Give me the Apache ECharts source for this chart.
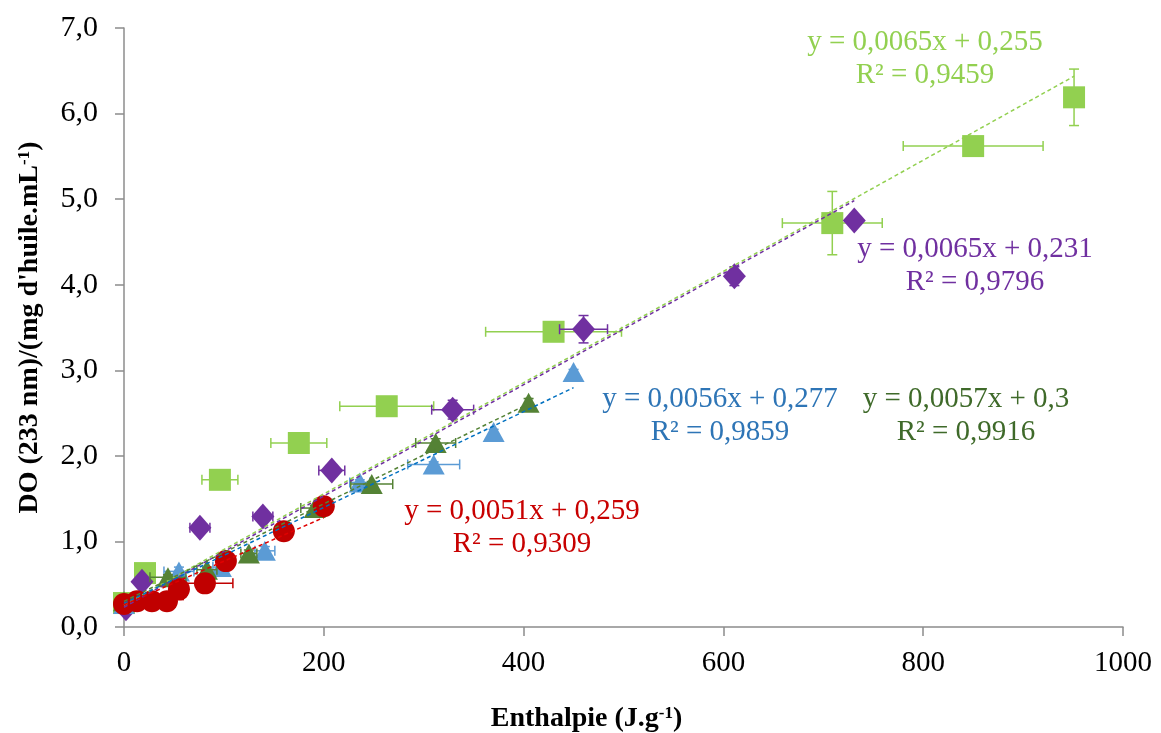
<!DOCTYPE html>
<html>
<head>
<meta charset="utf-8">
<script src="https://cdn.jsdelivr.net/npm/echarts@6/dist/echarts.min.js"></script>
<style>
html,body{margin:0;padding:0;background:#fff;}
#c{width:1161px;height:733px;}
</style>
</head>
<body>
<div id="c"></div>
<script>
// ---- data ----
const xTicks = [0, 200, 400, 600, 800, 1000];
const yTicks = [0, 1, 2, 3, 4, 5, 6, 7];

const limeX    = [0, 21, 96, 175, 263, 430, 709, 850, 951];
const limeY    = [0.28, 0.63, 1.72, 2.15, 2.58, 3.45, 4.72, 5.62, 6.19];
const limeXErr = [3, 5, 18, 28, 47, 68, 50, 70, 0];
const limeYErr = [0.02, 0.03, 0.03, 0.03, 0.08, 0.03, 0.37, 0.03, 0.33];

const purpleX    = [2, 18, 76, 139, 208, 329, 460, 611, 731];
const purpleY    = [0.22, 0.53, 1.16, 1.29, 1.83, 2.54, 3.48, 4.10, 4.75];
const purpleXErr = [2, 5, 10, 10, 13, 21, 24, 0, 0];
const purpleYErr = [0.02, 0.03, 0.05, 0.03, 0.03, 0.11, 0.16, 0.11, 0.02];

const blueX    = [0, 55, 97, 141, 236, 310, 370, 450];
const blueY    = [0.27, 0.65, 0.70, 0.89, 1.69, 1.90, 2.28, 2.98];
const blueXErr = [2, 15, 8, 10, 10, 26, 0, 0];
const blueYErr = [0.02, 0.05, 0.03, 0.05, 0.03, 0.03, 0.03, 0.03];

const dgreenX    = [0, 44, 83, 125, 191, 248, 312, 405];
const dgreenY    = [0.30, 0.58, 0.67, 0.86, 1.39, 1.67, 2.15, 2.62];
const dgreenXErr = [3, 18, 10, 8, 14, 21, 20, 3];
const dgreenYErr = [0.03, 0.03, 0.03, 0.04, 0.03, 0.03, 0.05, 0.05];

const redX    = [0, 13, 28, 43, 55, 81, 102, 160, 200];
const redY    = [0.27, 0.30, 0.30, 0.30, 0.44, 0.51, 0.77, 1.12, 1.41];
const redXErr = [2, 3, 3, 3, 5, 28, 5, 5, 3];
const redYErr = [0.02, 0.02, 0.02, 0.02, 0.12, 0.02, 0.02, 0.02, 0.02];

// trendline coefficients (slope, intercept) as printed on the chart
const trendSlope     = [0.0065, 0.0065, 0.0056, 0.0057, 0.0051];
const trendIntercept = [0.255, 0.231, 0.277, 0.3, 0.259];
const eqTexts = ['y = 0,0065x + 0,255', 'y = 0,0065x + 0,231', 'y = 0,0056x + 0,277', 'y = 0,0057x + 0,3', 'y = 0,0051x + 0,259'];
const r2Texts = ['R² = 0,9459', 'R² = 0,9796', 'R² = 0,9859', 'R² = 0,9916', 'R² = 0,9309'];

// ---- styling ----
const FONT = '"Liberation Serif", "Times New Roman", serif';
const groups = [
  {x: limeX, y: limeY, xe: limeXErr, ye: limeYErr, color: '#92D050', line: '#92D050', text: '#92D050', symbol: 'rect', size: [22, 22], labelPos: [925, 42]},
  {x: purpleX, y: purpleY, xe: purpleXErr, ye: purpleYErr, color: '#7030A0', line: '#7030A0', text: '#7030A0', symbol: 'diamond', size: [23, 26], labelPos: [975, 249]},
  {x: blueX, y: blueY, xe: blueXErr, ye: blueYErr, color: '#5B9BD5', line: '#0070C0', text: '#2E75B6', symbol: 'triangle', size: [22, 20], labelPos: [720, 399]},
  {x: dgreenX, y: dgreenY, xe: dgreenXErr, ye: dgreenYErr, color: '#548235', line: '#548235', text: '#3F6A2A', symbol: 'triangle', size: [22, 20], labelPos: [966, 399]},
  {x: redX, y: redY, xe: redXErr, ye: redYErr, color: '#C00000', line: '#E00000', text: '#C80000', symbol: 'circle', size: 22, labelPos: [522, 511]}
];

function errRender(color) {
  return function (params, api) {
    const x = api.value(0), y = api.value(1), xe = api.value(2), ye = api.value(3);
    const cap = 5;
    const children = [];
    const style = {stroke: color, lineWidth: 1.5};
    if (xe > 0) {
      const a = api.coord([x - xe, y]), b = api.coord([x + xe, y]);
      children.push({type: 'line', shape: {x1: a[0], y1: a[1], x2: b[0], y2: b[1]}, style});
      children.push({type: 'line', shape: {x1: a[0], y1: a[1] - cap, x2: a[0], y2: a[1] + cap}, style});
      children.push({type: 'line', shape: {x1: b[0], y1: b[1] - cap, x2: b[0], y2: b[1] + cap}, style});
    }
    if (ye > 0) {
      const a = api.coord([x, y - ye]), b = api.coord([x, y + ye]);
      children.push({type: 'line', shape: {x1: a[0], y1: a[1], x2: b[0], y2: b[1]}, style});
      children.push({type: 'line', shape: {x1: a[0] - cap, y1: a[1], x2: a[0] + cap, y2: a[1]}, style});
      children.push({type: 'line', shape: {x1: b[0] - cap, y1: b[1], x2: b[0] + cap, y2: b[1]}, style});
    }
    return {type: 'group', children};
  };
}

const series = [];
groups.forEach((g, i) => {
  series.push({
    type: 'custom',
    renderItem: errRender(g.color),
    data: g.x.map((v, k) => [v, g.y[k], g.xe[k], g.ye[k]]),
    encode: {x: 0, y: 1},
    z: 2 + i * 2,
    silent: true
  });
  series.push({
    type: 'scatter',
    symbol: g.symbol,
    symbolSize: g.size,
    itemStyle: {color: g.color, opacity: 1},
    data: g.x.map((v, k) => [v, g.y[k]]),
    z: 3 + i * 2,
    silent: true
  });
});
groups.forEach((g, i) => {
  const xmax = Math.max.apply(null, g.x);
  series.push({
    type: 'line',
    data: [[0, trendIntercept[i]], [xmax, trendSlope[i] * xmax + trendIntercept[i]]],
    showSymbol: false,
    symbol: 'none',
    lineStyle: {color: g.line, width: 1.5, type: [4, 3]},
    z: 20,
    silent: true
  });
});

const graphics = [];
groups.forEach((g, i) => {
  graphics.push({
    type: 'text', x: g.labelPos[0], y: g.labelPos[1],
    style: {text: eqTexts[i], fill: g.text, font: '29px ' + FONT, textAlign: 'center', textVerticalAlign: 'middle'},
    z: 30
  });
  graphics.push({
    type: 'text', x: g.labelPos[0], y: g.labelPos[1] + 33,
    style: {text: r2Texts[i], fill: g.text, font: '29px ' + FONT, textAlign: 'center', textVerticalAlign: 'middle'},
    z: 30
  });
});

const axisColor = '#8c8c8c';
const chart = echarts.init(document.getElementById('c'), null, {renderer: 'canvas'});
chart.setOption({
  animation: false,
  backgroundColor: '#ffffff',
  grid: {left: 124, right: 38, top: 28, bottom: 106, containLabel: false, outerBoundsMode: 'none'},
  xAxis: {
    type: 'value', min: xTicks[0], max: xTicks[xTicks.length - 1], interval: 200,
    splitLine: {show: false},
    axisLine: {show: true, lineStyle: {color: axisColor, width: 1.5}},
    axisTick: {show: true, inside: false, length: 9, lineStyle: {color: axisColor, width: 1.5}},
    axisLabel: {fontFamily: FONT, fontSize: 29, color: '#000', margin: 22,
      formatter: v => String(v)},
    name: '{b|Enthalpie (J.g}{s|-1}{b|)}',
    nameLocation: 'middle', nameGap: 78,
    nameTextStyle: {
      padding: [0, 74, 0, 0],
      rich: {
        b: {fontFamily: FONT, fontSize: 28, fontWeight: 'bold', color: '#000'},
        s: {fontFamily: FONT, fontSize: 17, fontWeight: 'bold', color: '#000', verticalAlign: 'top', padding: [0, 0, 9, 0]}
      }
    }
  },
  yAxis: {
    type: 'value', min: yTicks[0], max: yTicks[yTicks.length - 1], interval: 1,
    splitLine: {show: false},
    axisLine: {show: true, lineStyle: {color: axisColor, width: 1.5}},
    axisTick: {show: true, inside: false, length: 9, lineStyle: {color: axisColor, width: 1.5}},
    axisLabel: {fontFamily: FONT, fontSize: 30, color: '#000', margin: 26,
      formatter: v => v.toFixed(1).replace('.', ',')},
    name: '{b|DO (233 nm)/(mg d\'huile.mL}{s|-1}{b|)}',
    nameLocation: 'middle', nameGap: 80,
    nameTextStyle: {
      rich: {
        b: {fontFamily: FONT, fontSize: 28, fontWeight: 'bold', color: '#000'},
        s: {fontFamily: FONT, fontSize: 17, fontWeight: 'bold', color: '#000', verticalAlign: 'top', padding: [0, 0, 9, 0]}
      }
    }
  },
  series: series,
  graphic: graphics
});
</script>
</body>
</html>
